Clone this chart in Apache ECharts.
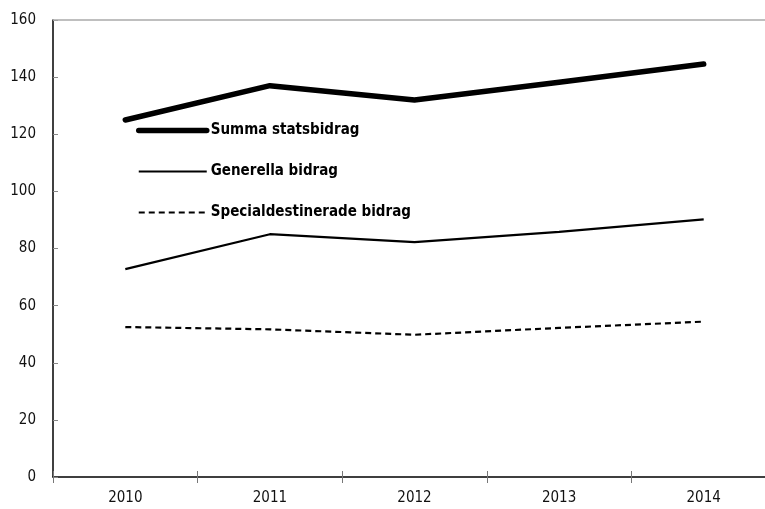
<!DOCTYPE html>
<html><head><meta charset="utf-8">
<script src="https://cdn.jsdelivr.net/npm/echarts@6/dist/echarts.min.js"></script>
<style>html,body{margin:0;padding:0;background:#fff}#c{width:765px;height:509px}</style>
</head><body><div id="c"></div>
<script>
var years = ['2010','2011','2012','2013','2014'];
var summa = [125.0, 137.0, 132.0, 138.2, 144.6];
var generella = [72.8, 85.0, 82.2, 85.8, 90.2];
var special = [52.5, 51.7, 49.8, 52.2, 54.4];
var names = ['Summa statsbidrag','Generella bidrag','Specialdestinerade bidrag'];
var FONT = '"Liberation Sans Narrow","DejaVu Sans Condensed","Roboto Condensed",sans-serif';
var chart = echarts.init(document.getElementById('c'));
var xBase = {type:'category', data:years, boundaryGap:true, position:'bottom'};
chart.setOption({
  animation:false,
  backgroundColor:'#fff',
  grid:{left:53, width:723, top:20, height:457, show:false, outerBoundsMode:'none', containLabel:false},
  legend:{
    orient:'vertical', left:131, top:118, itemGap:26, itemWidth:68, itemHeight:16,
    data:[
      {name:names[0], lineStyle:{width:5.5, cap:'round'}},
      {name:names[1], lineStyle:{width:2}},
      {name:names[2], lineStyle:{width:2.2, type:[6,4]}}
    ],
    itemStyle:{opacity:0, borderWidth:0},
    textStyle:{fontFamily:FONT, fontWeight:'bold', fontSize:15, color:'#000', padding:[0,0,0,-1]}
  },
  xAxis:[
    Object.assign({}, xBase, {
      axisLine:{lineStyle:{color:'#000', width:1.5}},
      axisTick:{show:true, inside:false, length:6, lineStyle:{color:'#777'}},
      axisLabel:{fontFamily:FONT, fontSize:15, color:'#111', margin:14},
      splitLine:{show:false}
    }),
    Object.assign({}, xBase, {
      gridIndex:0, position:'bottom', offset:0,
      axisLine:{show:false},
      axisTick:{show:true, inside:true, length:6, lineStyle:{color:'#777'}},
      axisLabel:{show:false}, splitLine:{show:false}
    })
  ],
  yAxis:{
    type:'value', min:0, max:160, interval:20,
    axisLine:{show:true, lineStyle:{color:'#000', width:1.5}},
    axisTick:{show:true, inside:true, length:5, lineStyle:{color:'#888'}},
    axisLabel:{fontFamily:FONT, fontSize:15, color:'#111', margin:17},
    splitLine:{show:false}
  },
  series:[
    {name:names[0], type:'line', data:summa, symbol:'none', color:'#000',
     lineStyle:{width:5.5, color:'#000', cap:'round', join:'round'},
     markLine:{silent:true, symbol:'none', label:{show:false},
       lineStyle:{color:'#aaa', width:1.5, type:'solid'}, data:[{yAxis:160}]}},
    {name:names[1], type:'line', data:generella, symbol:'none', color:'#000',
     lineStyle:{width:2.2, color:'#000'}},
    {name:names[2], type:'line', data:special, symbol:'none', color:'#000',
     lineStyle:{width:2.2, color:'#000', type:[6,4]}}
  ]
});
</script></body></html>
